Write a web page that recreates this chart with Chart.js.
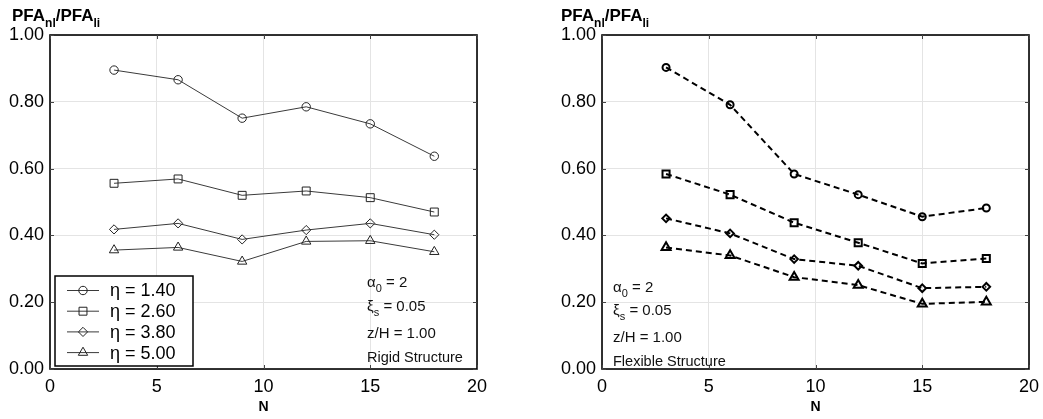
<!DOCTYPE html>
<html><head><meta charset="utf-8">
<script src="https://cdn.jsdelivr.net/npm/chart.js@4.4.1/dist/chart.umd.min.js"></script>
<style>
html,body{margin:0;padding:0;background:#fff;}
#wrap{position:relative;width:1043px;height:419px;overflow:hidden;background:#fff;}
.c{position:absolute;top:0;width:490px;height:419px;}
</style></head><body>
<div id="wrap">
<div class="c" style="left:0"><canvas id="left" width="490" height="419"></canvas></div>
<div class="c" style="left:552px"><canvas id="right" width="490" height="419"></canvas></div>
</div>
<script>
// ---- data ----
const N = [3, 6, 9, 12, 15, 18];
const etaLabels = ['η = 1.40', 'η = 2.60', 'η = 3.80', 'η = 5.00'];
const rigidEta140 = [0.895, 0.866, 0.751, 0.785, 0.734, 0.637];
const rigidEta260 = [0.556, 0.569, 0.520, 0.533, 0.513, 0.470];
const rigidEta380 = [0.418, 0.436, 0.388, 0.416, 0.436, 0.402];
const rigidEta500 = [0.356, 0.364, 0.322, 0.382, 0.384, 0.351];
const flexEta140 = [0.903, 0.791, 0.584, 0.522, 0.456, 0.482];
const flexEta260 = [0.584, 0.522, 0.438, 0.378, 0.316, 0.331];
const flexEta380 = [0.451, 0.406, 0.329, 0.309, 0.242, 0.246];
const flexEta500 = [0.364, 0.340, 0.275, 0.251, 0.195, 0.201];
const xTicks = [0, 5, 10, 15, 20];
const yTicks = [0, 0.2, 0.4, 0.6, 0.8, 1.0];
const pointStyles = ['circle', 'rect', 'rectRot', 'triangle'];

function pts(vals) { return N.map((n, i) => ({ x: n, y: vals[i] })); }

function drawMarker(ctx, style, r, x, y) {
  if (Chart.helpers && Chart.helpers.drawPoint) {
    Chart.helpers.drawPoint(ctx, { pointStyle: style, radius: r, rotation: 0, borderWidth: 1 }, x, y);
  }
}

function annotPlugin(opts) {
  return {
    id: 'annot',
    afterDraw(chart) {
      const ctx = chart.ctx, ca = chart.chartArea;
      const xs = chart.scales.x, ys = chart.scales.y;
      ctx.save();
      ctx.setLineDash([]);
      // box
      ctx.strokeStyle = '#000';
      ctx.lineWidth = 1.6;
      ctx.strokeRect(ca.left, ca.top, ca.right - ca.left, ca.bottom - ca.top);
      // inner ticks
      ctx.lineWidth = 1;
      ctx.strokeStyle = '#444';
      ctx.beginPath();
      xTicks.forEach(v => {
        const px = Math.round(xs.getPixelForValue(v)) + 0.5;
        ctx.moveTo(px, ca.bottom); ctx.lineTo(px, ca.bottom - 4);
        ctx.moveTo(px, ca.top); ctx.lineTo(px, ca.top + 4);
      });
      yTicks.forEach(v => {
        const py = Math.round(ys.getPixelForValue(v)) + 0.5;
        ctx.moveTo(ca.left, py); ctx.lineTo(ca.left + 4, py);
        ctx.moveTo(ca.right, py); ctx.lineTo(ca.right - 4, py);
      });
      ctx.stroke();
      // title
      ctx.fillStyle = '#000';
      ctx.textBaseline = 'alphabetic';
      ctx.textAlign = 'left';
      let tx = ca.left + opts.titleDx;
      const big = 'bold 17px "Liberation Sans", Arial, sans-serif';
      const small = 'bold 12px "Liberation Sans", Arial, sans-serif';
      [['PFA', big, 0], ['nl', small, 6], ['/PFA', big, 0], ['li', small, 6]].forEach(([t, f, dy]) => {
        ctx.font = f; ctx.fillText(t, tx, 21 + dy); tx += ctx.measureText(t).width;
      });
      // x axis title
      ctx.font = 'bold 14px "Liberation Sans", Arial, sans-serif';
      ctx.textAlign = 'center';
      ctx.fillText('N', (ca.left + ca.right) / 2, 411);
      // parameter text
      ctx.textAlign = 'left';
      const f15 = '15px "Liberation Sans", Arial, sans-serif';
      const f11 = '11px "Liberation Sans", Arial, sans-serif';
      const ax = ca.left + opts.textDx, b0 = opts.textY;
      function seq(parts, x, y) {
        parts.forEach(([t, f, dy]) => { ctx.font = f; ctx.fillText(t, x, y + dy); x += ctx.measureText(t).width; });
      }
      ctx.fillStyle = '#111';
      seq([['α', f15, 0], ['0', f11, 5], [' = 2', f15, 0]], ax, b0);
      seq([['ξ', f15, 0], ['s', f11, 5], [' = 0.05', f15, 0]], ax, b0 + 23.5);
      seq([['z/H = 1.00', f15, 0]], ax, b0 + 50.5);
      ctx.font = '14.5px "Liberation Sans", Arial, sans-serif';
      ctx.fillText(opts.label, ax, b0 + 74.5);
      // legend
      if (opts.legend) {
        const lx = ca.left + 5, ly = 276, lw = 138, lh = 90;
        ctx.fillStyle = '#fff';
        ctx.fillRect(lx, ly, lw, lh);
        ctx.strokeStyle = '#000';
        ctx.lineWidth = 1.5;
        ctx.strokeRect(lx, ly, lw, lh);
        chart.data.datasets.forEach((ds, i) => {
          const y = 290.5 + i * 20.7;
          ctx.setLineDash([]);
          ctx.strokeStyle = ds.borderColor;
          ctx.lineWidth = 1;
          ctx.beginPath(); ctx.moveTo(ca.left + 17, y); ctx.lineTo(ca.left + 49, y); ctx.stroke();
          ctx.strokeStyle = ds.pointBorderColor;
          ctx.fillStyle = 'rgba(0,0,0,0)';
          ctx.lineWidth = 1;
          drawMarker(ctx, ds.pointStyle, ds.pointRadius, ca.left + 33, y);
          ctx.fillStyle = '#000';
          ctx.font = '18px "Liberation Sans", Arial, sans-serif';
          ctx.textBaseline = 'middle';
          ctx.fillText(ds.label, ca.left + 60, y + 1);
          ctx.textBaseline = 'alphabetic';
        });
      }
      ctx.restore();
    }
  };
}

function makeChart(id, series, dashed, opts) {
  const radii = dashed ? [3.5, 5.0, 3.8, 5.2] : [4.2, 5.6, 4.6, 5.4];
  const datasets = series.map((vals, i) => ({
    label: etaLabels[i],
    data: pts(vals),
    borderColor: dashed ? '#000' : '#3a3a3a',
    borderWidth: dashed ? 2 : 1,
    borderDash: dashed ? [6, 4] : [],
    pointStyle: pointStyles[i],
    pointRadius: radii[i],
    pointBorderColor: dashed ? '#000' : '#222',
    pointBorderWidth: dashed ? 2 : 1,
    pointBackgroundColor: 'rgba(0,0,0,0)',
    fill: false,
    tension: 0
  }));
  return new Chart(document.getElementById(id), {
    type: 'line',
    data: { datasets },
    options: {
      responsive: false,
      animation: false,
      devicePixelRatio: 1,
      layout: { padding: { top: 35, right: 13, left: 0, bottom: 0 } },
      plugins: { legend: { display: false }, tooltip: { enabled: false } },
      scales: {
        x: {
          type: 'linear', min: 0, max: 20,
          afterBuildTicks: s => { s.ticks = xTicks.map(v => ({ value: v })); },
          afterFit: s => { s.height = 50; s.paddingLeft = 0; s.paddingRight = 0; },
          grid: { color: '#e4e4e4', drawTicks: false, lineWidth: 1 },
          border: { display: false },
          ticks: { color: '#000', padding: 7, maxRotation: 0,
                   font: { family: '"Liberation Sans", Arial, sans-serif', size: 18 },
                   callback: v => String(v) }
        },
        y: {
          type: 'linear', min: 0, max: 1,
          afterBuildTicks: s => { s.ticks = yTicks.map(v => ({ value: v })); },
          afterFit: s => { s.width = 50; s.paddingTop = 0; s.paddingBottom = 0; },
          grid: { color: '#e4e4e4', drawTicks: false, lineWidth: 1 },
          border: { display: false },
          ticks: { color: '#000', padding: 6,
                   font: { family: '"Liberation Sans", Arial, sans-serif', size: 18 },
                   callback: v => Number(v).toFixed(2) }
        }
      }
    },
    plugins: [annotPlugin(opts)]
  });
}

makeChart('left', [rigidEta140, rigidEta260, rigidEta380, rigidEta500], false,
  { titleDx: -38, textDx: 317, textY: 287, label: 'Rigid Structure', legend: true });
makeChart('right', [flexEta140, flexEta260, flexEta380, flexEta500], true,
  { titleDx: -41, textDx: 11, textY: 291.5, label: 'Flexible Structure', legend: false });
</script>
</body></html>
